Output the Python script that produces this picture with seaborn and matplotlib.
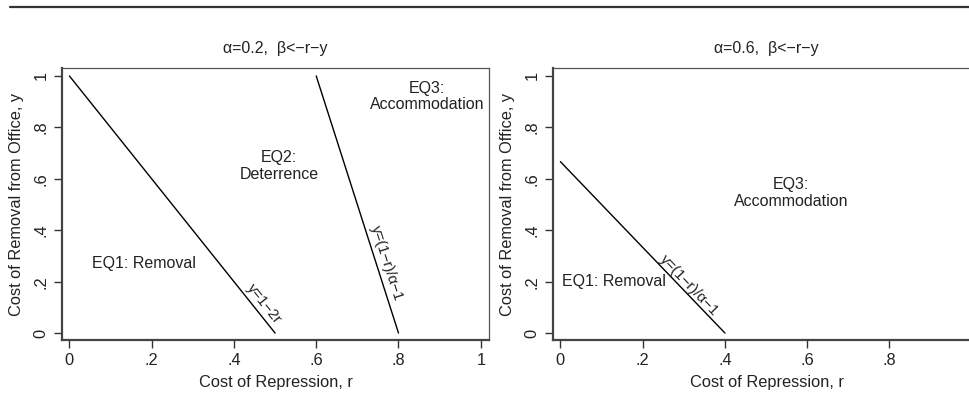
import numpy as np
import pandas as pd
import matplotlib
matplotlib.use("Agg")
import matplotlib.pyplot as plt
import seaborn as sns

# ---- data ----
alphas = [0.2, 0.6]
titles = ["α=0.2,  β<−r−y", "α=0.6,  β<−r−y"]
# boundary line endpoints (r, y)
left_line1_r = [0.0, 0.5]
left_line1_y = [1.0, 0.0]
left_line2_r = [0.6, 0.8]
left_line2_y = [1.0, 0.0]
right_line_r = [0.0, 0.4]
right_line_y = [0.6667, 0.0]
xticks_left = [0, 0.2, 0.4, 0.6, 0.8, 1.0]
xticks_right = [0, 0.2, 0.4, 0.6, 0.8]
xtick_labels_left = ["0", ".2", ".4", ".6", ".8", "1"]
xtick_labels_right = ["0", ".2", ".4", ".6", ".8"]
yticks = [0, 0.2, 0.4, 0.6, 0.8, 1.0]
ytick_labels = ["0", ".2", ".4", ".6", ".8", "1"]
region_left = [("EQ1: Removal", 0.18, 0.27), ("EQ2:\nDeterrence", 0.51, 0.65),
               ("EQ3:\nAccommodation", 0.87, 0.92)]
region_right = [("EQ1: Removal", 0.13, 0.20), ("EQ3:\nAccommodation", 0.56, 0.545)]
line_labels_left = [("y=1−2r", 0.473, 0.113, 0), ("y=(1−r)/α−1", 0.77, 0.27, 1)]
line_labels_right = [("y=(1−r)/α−1", 0.312, 0.187, 0)]

sns.set_theme(style="white")
plt.rcParams['font.family'] = ['Liberation Sans', 'DejaVu Sans']

W, H = 969, 413
fig = plt.figure(figsize=(W / 100, H / 100), dpi=100)

# top rule
fig.add_artist(plt.Line2D([10 / W, 1.0], [1 - 7 / H, 1 - 7 / H], color="#333333", lw=1.6))

axw = 427 / W
axh = 272 / H
axb = (H - 340) / H
ax1 = fig.add_axes([62 / W, axb, axw, axh])
ax2 = fig.add_axes([553 / W, axb, axw, axh])

txtc = "#222222"
FS = 11.8

def style(ax, title, xt, xtl):
    ax.set_xlim(-0.018, 1.02)
    ax.set_ylim(-0.027, 1.031)
    ax.set_xticks(xt)
    ax.set_xticklabels(xtl, fontsize=FS, color=txtc)
    ax.set_yticks(yticks)
    ax.set_yticklabels(ytick_labels, fontsize=FS, color=txtc, rotation=90, va="center")
    ax.tick_params(axis="both", direction="out", length=6, width=1, color="#333333",
                   bottom=True, left=True, pad=3.5)
    ax.set_title(title, fontsize=11.5, color=txtc, pad=11)
    for s in ["left", "bottom"]:
        ax.spines[s].set_color("#444444")
        ax.spines[s].set_linewidth(1.6)
    for s in ["top", "right"]:
        ax.spines[s].set_color("#555555")
        ax.spines[s].set_linewidth(0.9)
    ax.grid(False)

style(ax1, titles[0], xticks_left, xtick_labels_left)
style(ax2, titles[1], xticks_right, xtick_labels_right)

lines_left = [(left_line1_r, left_line1_y), (left_line2_r, left_line2_y)]
lines_right = [(right_line_r, right_line_y)]

for ax, lines in [(ax1, lines_left), (ax2, lines_right)]:
    for i, (rr, yy) in enumerate(lines):
        df = pd.DataFrame({"r": rr, "y": yy})
        sns.lineplot(data=df, x="r", y="y", ax=ax, color="black", lw=1.0,
                     estimator=None, sort=False, legend=False)
    ax.set_xlabel("Cost of Repression, r", fontsize=FS, color=txtc, labelpad=5)
    ax.set_ylabel("Cost of Removal from Office, y", fontsize=FS, color=txtc, labelpad=7)

for ax, regs in [(ax1, region_left), (ax2, region_right)]:
    for t, x, y in regs:
        ax.text(x, y, t, fontsize=11.5, color=txtc, ha="center", va="center", linespacing=1.15)

def add_line_labels(ax, labels, lines):
    for t, x, y, idx in labels:
        rr, yy = lines[idx]
        ang = np.degrees(np.arctan2(yy[1] - yy[0], rr[1] - rr[0]))
        rot = ax.transData.transform_angles(np.array([ang]), np.array([[x, y]]))[0]
        ax.text(x, y, t, fontsize=10.8, color=txtc, rotation=rot, rotation_mode="anchor",
                ha="center", va="center")

add_line_labels(ax1, line_labels_left, lines_left)
add_line_labels(ax2, line_labels_right, lines_right)

fig.savefig("out.png", dpi=100)
